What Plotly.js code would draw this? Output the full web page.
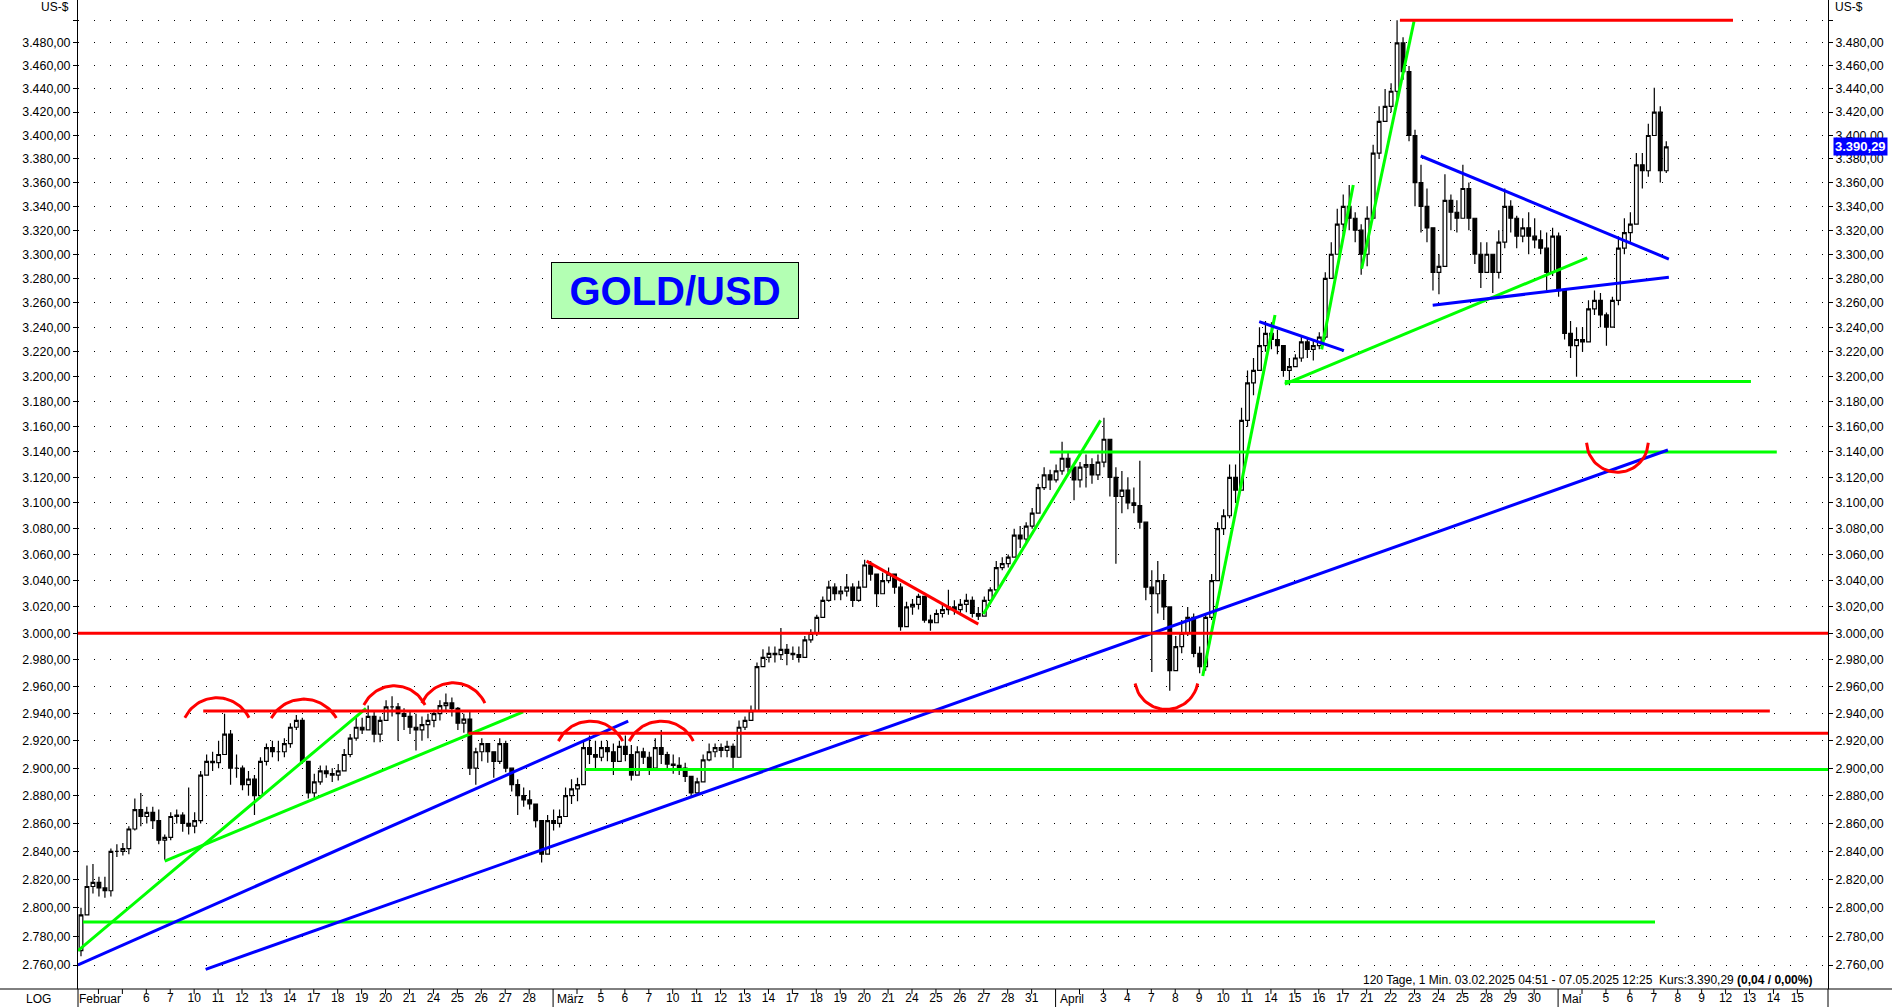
<!DOCTYPE html>
<html><head><meta charset="utf-8">
<script src="https://cdn.plot.ly/plotly-3.0.1.min.js"></script>
<style>html,body{margin:0;padding:0;background:#fff;overflow:hidden}</style>
</head><body><div id="chart" style="width:1892px;height:1007px"></div>
<script>
// ---------- DATA ----------
// Trading-day axis labels (one entry per trading day, 03.02.2025 .. 15.05.2025)
const axisLabels = ['Februar','','','6','7','10','11','12','13','14','17','18','19','20','21','24','25','26','27','28',
  'März','','5','6','7','10','11','12','13','14','17','18','19','20','21','24','25','26','27','28','31',
  'April','','3','4','7','8','9','10','11','14','15','16','17','21','22','23','24','25','28','29','30',
  'Mai','','5','6','7','8','9','12','13','14','15'];
const monthStartDays = [0, 20, 41, 62];

// Price bars, 4 per trading day (close / high / low), GOLD/USD
const firstOpen = 2770;
const closes = [
 2795,2815,2818,2814, 2812,2840,2840,2842, 2856,2870,2865,2868, 2862,2848,2850,2865,
 2866,2860,2858,2862, 2895,2905,2904,2910, 2925,2900,2900,2888, 2892,2880,2905,2915,
 2912,2912,2918,2930, 2935,2905,2882,2890, 2898,2896,2895,2898, 2910,2922,2930,2928,
 2938,2925,2935,2945, 2945,2940,2938,2930, 2928,2932,2935,2940, 2946,2948,2944,2933,
 2936,2900,2912,2918, 2912,2905,2918,2900, 2888,2880,2877,2874, 2862,2838,2862,2860,
 2865,2880,2885,2888, 2915,2910,2908,2915, 2912,2905,2916,2910, 2895,2912,2908,2900,
 2915,2910,2903,2902, 2900,2894,2882,2890, 2906,2912,2915,2913, 2916,2908,2930,2935,
 2942,2975,2982,2985, 2984,2988,2985,2984, 2982,2995,3000,3012, 3025,3035,3030,3032,
 3035,3025,3035,3052, 3045,3030,3040,3045, 3035,3005,3020,3022, 3028,3010,3008,3015,
 3018,3020,3018,3022, 3025,3015,3013,3025, 3033,3050,3053,3058, 3075,3072,3082,3092,
 3112,3122,3118,3125, 3135,3128,3118,3128, 3130,3122,3132,3150, 3120,3105,3110,3100,
 3098,3085,3035,3030, 3040,3020,2972,2990, 3000,3012,2985,2975, 3012,3040,3080,3090,
 3120,3110,3165,3195, 3205,3225,3235,3230, 3225,3205,3208,3215, 3228,3222,3225,3232,
 3280,3300,3325,3340, 3330,3320,3300,3330, 3385,3412,3425,3438, 3480,3455,3400,3360,
 3340,3322,3285,3290, 3345,3335,3330,3355, 3330,3300,3285,3300, 3285,3310,3340,3330,
 3315,3322,3315,3312, 3305,3285,3315,3270, 3235,3225,3230,3228, 3255,3262,3250,3240,
 3262,3305,3318,3325, 3375,3370,3400,3420, 3370,3390.29];
const highs = [
 2800,2830,2831,2822, 2822,2842,2845,2846, 2858,2878,2882,2872, 2872,2870,2852,2868,
 2870,2868,2886,2868, 2898,2910,2912,2920, 2940,2928,2910,2902, 2898,2895,2908,2918,
 2920,2920,2922,2933, 2939,2937,2905,2896, 2902,2902,2900,2903, 2914,2925,2938,2937,
 2946,2942,2938,2950, 2953,2948,2944,2942, 2940,2938,2940,2943, 2950,2955,2952,2945,
 2940,2942,2915,2922, 2918,2912,2922,2920, 2900,2892,2886,2884, 2870,2858,2866,2870,
 2870,2886,2892,2893, 2920,2924,2920,2920, 2920,2918,2920,2924, 2917,2916,2915,2912,
 2922,2928,2912,2910, 2908,2904,2894,2893, 2910,2918,2918,2918, 2920,2918,2935,2938,
 2946,2978,2988,2990, 2990,3004,2992,2990, 2990,2998,3003,3014, 3028,3040,3038,3036,
 3045,3038,3040,3056, 3055,3045,3046,3050, 3045,3038,3024,3026, 3030,3028,3014,3018,
 3022,3033,3025,3026, 3030,3028,3020,3028, 3035,3055,3058,3060, 3080,3082,3085,3096,
 3115,3128,3126,3130, 3148,3140,3128,3132, 3138,3135,3138,3167, 3150,3128,3125,3120,
 3112,3133,3080,3048, 3055,3045,3005,2998, 3010,3020,3015,2990, 3015,3045,3085,3095,
 3130,3130,3175,3205, 3215,3240,3245,3244, 3238,3225,3215,3218, 3232,3232,3230,3236,
 3285,3310,3338,3350, 3358,3335,3325,3340, 3392,3425,3440,3445, 3500,3485,3460,3405,
 3375,3355,3320,3300, 3367,3350,3345,3375, 3360,3330,3310,3310, 3300,3320,3355,3345,
 3332,3330,3335,3330, 3320,3318,3322,3318, 3268,3245,3240,3240, 3262,3270,3268,3252,
 3265,3315,3330,3335, 3385,3385,3410,3441, 3425,3395];
const lows = [
 2766,2795,2810,2808, 2807,2808,2836,2837, 2838,2855,2858,2860, 2856,2845,2834,2848,
 2860,2854,2852,2853, 2860,2896,2898,2900, 2915,2888,2893,2884, 2880,2866,2878,2902,
 2908,2905,2908,2915, 2928,2903,2878,2878, 2888,2893,2890,2891, 2898,2908,2920,2925,
 2928,2919,2919,2935, 2938,2920,2928,2925, 2913,2920,2922,2930, 2935,2942,2938,2928,
 2926,2895,2888,2905, 2904,2893,2903,2897, 2883,2866,2872,2870, 2857,2832,2838,2855,
 2857,2866,2874,2876, 2888,2903,2900,2905, 2905,2895,2905,2905, 2891,2898,2903,2895,
 2905,2903,2898,2896, 2895,2890,2879,2880, 2890,2905,2908,2908, 2908,2900,2908,2928,
 2935,2942,2975,2978, 2978,2980,2976,2980, 2978,2982,2993,2998, 3012,3024,3025,3025,
 3028,3020,3024,3035, 3040,3020,3030,3038, 3030,3002,3005,3014, 3018,3008,3002,3008,
 3012,3014,3014,3014, 3016,3012,3010,3015, 3024,3032,3048,3050, 3058,3065,3068,3080,
 3092,3110,3110,3116, 3122,3124,3102,3112, 3112,3115,3118,3128, 3105,3053,3092,3095,
 3092,3080,3025,2971, 3015,3010,2957,2972, 2985,2998,2982,2970, 2972,3010,3040,3075,
 3088,3100,3110,3160, 3185,3205,3220,3222, 3218,3200,3193,3208, 3212,3215,3213,3222,
 3230,3280,3300,3315, 3320,3310,3283,3290, 3335,3380,3412,3420, 3430,3448,3395,3340,
 3318,3310,3270,3267, 3290,3320,3318,3335, 3320,3292,3272,3285, 3268,3280,3305,3318,
 3305,3310,3300,3305, 3300,3270,3282,3265, 3230,3215,3200,3220, 3228,3250,3240,3225,
 3242,3258,3300,3310, 3325,3355,3365,3400, 3360,3368];

// Drawn trend lines: [startDay, startPrice, endDay, endPrice]
const greenLines = [
 [0.146,2770, 12.18,2944], [3.77,2833, 18.75,2941.4], [0.355,2790, 66.05,2790],
 [21.33,2899, 73.28,2899], [37.98,3014.6, 42.88,3165], [40.76,3140, 71.14,3140],
 [47.15,2968, 50.17,3250], [50.58,3196, 70.06,3196], [50.58,3194, 63.22,3297],
 [52.12,3222, 53.44,3358], [53.79,3288, 55.98,3499]];
const blueLines = [
 [0.146,2760, 23.14,2934.5], [5.48,2757, 66.59,3141.5], [49.51,3244.5, 53.05,3221],
 [56.26,3382.5, 66.63,3296], [56.76,3258, 66.63,3281]];
const redLines = [
 [0.146,3000, 73.28,3000], [5.38,2942, 70.85,2942], [16.46,2925.5, 73.28,2925.5],
 [33.1,3055, 37.77,3007], [55.39,3500, 69.31,3500]];
// Arcs: [leftDay, rightDay, edgePrice, middlePrice]
const redArcs = [
 [4.61,7.29, 2937,2951.8], [8.22,10.94, 2936.8,2950.8], [12.09,14.65, 2946.4,2960.7],
 [14.51,17.15, 2947.8,2962.9], [20.22,22.91, 2919.8,2934.5], [23.18,25.86, 2919.8,2934.5],
 [44.32,46.94, 2962.4,2943.2], [63.19,65.77, 3147.3,3124]];

const yTickValues = [2760,2780,2800,2820,2840,2860,2880,2900,2920,2940,2960,2980,3000,3020,3040,3060,
 3080,3100,3120,3140,3160,3180,3200,3220,3240,3260,3280,3300,3320,3340,3360,3380,3400,3420,3440,3460,3480,3500];
const lastPrice = 3390.29;
const infoText = '120 Tage, 1 Min. 03.02.2025 04:51 - 07.05.2025 12:25  Kurs:3.390,29 <b>(0,04 / 0,00%)</b>';

// ---------- BUILD ----------
const BARS_PER_DAY = 4, DATA_START = 0.146;
const X_RANGE = [0.146, 73.28];
const Y_RANGE = [Math.log10(2743.4), Math.log10(3517.8)];
const PLOT_W = 1750, PLOT_H = 989;
const FONT = 'Liberation Sans, Arial, sans-serif';

function de(v){ const s=v.toFixed(2).split('.'); return s[0].replace(/\B(?=(\d{3})+(?!\d))/g,'.')+','+s[1]; }
const yTickText = yTickValues.map(v => v===3500 ? '' : de(v));

const bx=[], bo=[], bh=[], bl=[], bc=[];
closes.forEach((c,i)=>{
  const o = i===0 ? firstOpen : closes[i-1];
  bx.push(DATA_START + (i+0.5)/BARS_PER_DAY);
  bo.push(o); bc.push(c);
  bh.push(Math.max(highs[i],o,c)); bl.push(Math.min(lows[i],o,c));
});

function linesTrace(arr,color){
  const x=[],y=[];
  arr.forEach(l=>{x.push(l[0],l[2],null); y.push(l[1],l[3],null);});
  return {type:'scatter',mode:'lines',x,y,line:{color,width:3},hoverinfo:'skip',showlegend:false};
}
function arcTrace(arr,color){
  const pxX = PLOT_W/(X_RANGE[1]-X_RANGE[0]);
  const pxY = PLOT_H/(Y_RANGE[1]-Y_RANGE[0]);
  const x=[],y=[];
  arr.forEach(a=>{
    const le=Math.log10(a[2]), lm=Math.log10(a[3]);
    const c=(a[1]-a[0])/2*pxX, s=Math.abs(lm-le)*pxY;
    const R=(c*c+s*s)/(2*s);
    for(let k=0;k<=40;k++){
      const t=-1+2*k/40;
      const f=(Math.sqrt(R*R-(t*c)*(t*c))-(R-s))/s;
      x.push((a[0]+a[1])/2+t*(a[1]-a[0])/2);
      y.push(Math.pow(10, le+(lm-le)*f));
    }
    x.push(null); y.push(null);
  });
  return {type:'scatter',mode:'lines',x,y,line:{color,width:3},hoverinfo:'skip',showlegend:false};
}

const candles = {
  type:'candlestick', x:bx, open:bo, high:bh, low:bl, close:bc,
  increasing:{line:{color:'#000',width:1.2},fillcolor:'#ffffff'},
  decreasing:{line:{color:'#000',width:1.2},fillcolor:'#000000'},
  whiskerwidth:0, hoverinfo:'skip', showlegend:false
};
const dummyRight = {type:'scatter',mode:'lines',x:[1],y:[3000],yaxis:'y2',hoverinfo:'skip',showlegend:false,line:{color:'rgba(0,0,0,0)'}};

const traces = [linesTrace(greenLines,'#00ff00'), linesTrace(blueLines,'#0000ff'), linesTrace(redLines,'#ff0000'),
  arcTrace(redArcs,'#ff0000'), candles, dummyRight];

const dayIdx = axisLabels.map((_,i)=>i);
const tickText = axisLabels.map((t,i)=> monthStartDays.includes(i) ? '' : t);
const toPaperX = d => (d - X_RANGE[0])/(X_RANGE[1]-X_RANGE[0]);

const shapes = [
  {type:'line',xref:'paper',yref:'paper',x0:-78/PLOT_W,x1:1814/PLOT_W,y0:0,y1:0,line:{color:'#000',width:1}},
  {type:'line',xref:'paper',yref:'paper',x0:0,x1:0,y0:0,y1:-18/PLOT_H,line:{color:'#000',width:1}},
  {type:'line',xref:'paper',yref:'paper',x0:1,x1:1,y0:0,y1:-18/PLOT_H,line:{color:'#000',width:1}}
];
dayIdx.forEach(d=>{
  if(d===0) return;
  const long = monthStartDays.includes(d);
  shapes.push({type:'line',xref:'paper',yref:'paper',x0:toPaperX(d),x1:toPaperX(d),y0:0,y1:(long?-18:-5)/PLOT_H,line:{color:'#000',width:1}});
});

const annotations = [];
monthStartDays.forEach(d=>annotations.push({xref:'paper',yref:'paper',x:toPaperX(d)+2/PLOT_W,y:-10/PLOT_H,xanchor:'left',yanchor:'middle',
  text:axisLabels[d],showarrow:false,font:{family:FONT,size:12,color:'#000'}}));
annotations.push(
  {xref:'paper',yref:'paper',x:-7/PLOT_W,y:1-7/PLOT_H,xanchor:'right',yanchor:'middle',text:'US-$',showarrow:false,font:{family:FONT,size:12,color:'#000'}},
  {xref:'paper',yref:'paper',x:1+5/PLOT_W,y:1-7/PLOT_H,xanchor:'left',yanchor:'middle',text:'US-$',showarrow:false,font:{family:FONT,size:12,color:'#000'}},
  {xref:'paper',yref:'paper',x:-54/PLOT_W,y:-10/PLOT_H,xanchor:'left',yanchor:'middle',text:'LOG',showarrow:false,font:{family:FONT,size:12,color:'#000'}},
  {xref:'paper',yref:'paper',x:1736/PLOT_W,y:9/PLOT_H,xanchor:'right',yanchor:'middle',text:infoText,showarrow:false,font:{family:FONT,size:12,color:'#000'}},
  {xref:'paper',yref:'y',x:1+5/PLOT_W,y:Math.log10(lastPrice),xanchor:'left',yanchor:'middle',text:'<b>'+de(lastPrice)+'</b>',showarrow:false,
    bgcolor:'#0000ff',borderpad:1,font:{family:FONT,size:13,color:'#ffffff'}},
  {xref:'paper',yref:'paper',x:597/PLOT_W,y:1-290.5/PLOT_H,xanchor:'center',yanchor:'middle',text:'<b>GOLD/USD</b>',showarrow:false,
    width:246,height:55,bgcolor:'#b3ffb3',bordercolor:'#000',borderwidth:1,borderpad:0,font:{family:FONT,size:40,color:'#0000ff'}}
);

const yAxisCommon = {type:'log',range:Y_RANGE,tickvals:yTickValues,ticktext:yTickText,showline:true,linecolor:'#000',linewidth:1,
  ticks:'outside',ticklen:4,tickcolor:'#000',zeroline:false,fixedrange:true,tickfont:{family:FONT,size:12.4,color:'#000'}};

const layout = {
  width:1892,height:1007,margin:{l:78,r:64,t:0,b:18,pad:0},
  paper_bgcolor:'#ffffff',plot_bgcolor:'#ffffff',showlegend:false,boxgap:0.12,
  font:{family:FONT,size:12,color:'#000'},
  xaxis:{type:'linear',range:X_RANGE,rangeslider:{visible:false},showgrid:false,zeroline:false,showline:false,
    ticks:'',tickvals:dayIdx,ticktext:tickText,tickangle:0,
    tickfont:{family:FONT,size:12,color:'#000'},fixedrange:true},
  yaxis:Object.assign({},yAxisCommon,{side:'left',showgrid:true,gridcolor:'#000',gridwidth:1,griddash:'1px,15px'}),
  yaxis2:Object.assign({},yAxisCommon,{side:'right',overlaying:'y',showgrid:false}),
  shapes, annotations
};

Plotly.newPlot('chart',traces,layout,{staticPlot:true,displayModeBar:false});
</script></body></html>
